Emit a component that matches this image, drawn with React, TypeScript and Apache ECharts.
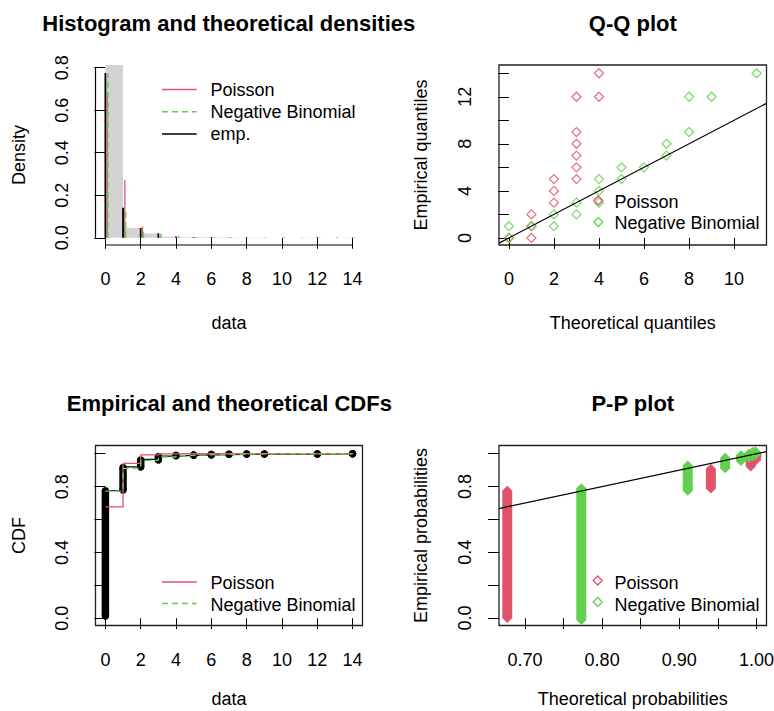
import { useEffect, useRef } from 'react';
import * as echarts from 'echarts';

const RED = '#DF536B';
const GREEN = '#61D04F';
const GRAY = '#D3D3D3';
const INK = '#000000';
const FONT = '"Liberation Sans", Arial, Helvetica, sans-serif';
const FS = 18;
const DASH = [6, 4];

// ---------- Panel 1: Histogram and theoretical densities ----------
const histBinStart = [0, 1, 2, 3, 4, 5, 6, 7, 8, 9, 10, 11, 12, 13];
const histBinEnd = [1, 2, 3, 4, 5, 6, 7, 8, 9, 10, 11, 12, 13, 14];
const histDensity = [0.92, 0.046, 0.02, 0.006, 0.003, 0.003, 0.002, 0.001, 0.001, 0, 0, 0.001, 0, 0.001];
const countValues = [0, 1, 2, 3, 4, 5, 6, 7, 8, 9, 10, 11, 12, 13, 14];
const empDensity = [0.775, 0.141, 0.046, 0.021, 0.006, 0.003, 0.003, 0.001, 0.002, 0.001, 0, 0, 0.002, 0, 0.001];
const poisDensity = [0.68, 0.27, 0.053, 0.007, 0.001, 0, 0, 0.002, 0, 0, 0.002, 0.002, 0.002, 0.002, 0.002];
const nbDensity = [0.773, 0.138, 0.0485, 0.0205, 0.01, 0.004, 0.003, 0.002, 0.001, 0.001, 0.001, 0.001, 0.001, 0.001, 0.001];
const dataTicks = [0, 2, 4, 6, 8, 10, 12, 14];
const densityTicks = [0, 0.2, 0.4, 0.6, 0.8];

// ---------- Panel 2: Q-Q plot ----------
const qqPoisTheo = [0, 1, 1, 1, 2, 2, 2, 3, 3, 3, 3, 3, 3, 4, 4];
const qqPoisEmp = [0, 0, 1, 2, 3, 4, 5, 5, 6, 7, 8, 9, 12, 12, 14];
const qqNbTheo = [0, 0, 1, 2, 2, 3, 3, 4, 4, 4, 5, 5, 6, 7, 7, 8, 8, 9, 11];
const qqNbEmp = [0, 1, 1, 1, 2, 2, 3, 3, 4, 5, 5, 6, 6, 7, 8, 9, 12, 12, 14];
const qqXTicks = [0, 2, 4, 6, 8, 10];
const qqYTicks = [0, 2, 4, 6, 8, 10, 12, 14];
const qqYLabels = [0, 4, 8, 12];

// ---------- Panel 3: Empirical and theoretical CDFs ----------
const cdfEmpX = [0, 1, 2, 3, 4, 5, 6, 7, 8, 9, 12, 14];
const cdfEmpLo = [0.014, 0.78, 0.92, 0.962, 0.988, 0.99, 0.993, 0.997, 0.998, 0.998, 0.999, 1.0];
const cdfEmpHi = [0.775, 0.916, 0.962, 0.983, 0.99, 0.993, 0.996, 0.997, 0.998, 0.998, 0.999, 1.0];
const cdfEmpStep = [0.775, 0.92, 0.966, 0.986, 0.99, 0.993, 0.995, 0.996, 0.997, 0.998, 0.999, 1.0];
const cdfPois = [0.677, 0.941, 0.9926, 0.9993, 1, 1, 1, 1, 1, 1, 1, 1, 1, 1, 1];
const cdfNb = [0.773, 0.911, 0.9595, 0.98, 0.99, 0.994, 0.996, 0.998, 0.999, 0.999, 1, 1, 1, 1, 1];
const probTicks = [0, 0.2, 0.4, 0.6, 0.8, 1.0];
const probLabels = [0, 0.4, 0.8];

// ---------- Panel 4: P-P plot ----------
const ppPoisX = [0.677, 0.941, 0.9926, 0.9993, 1.0];
const ppPoisLo = [0, 0.788, 0.922, 0.96, 0.985];
const ppPoisHi = [0.775, 0.908, 0.96, 0.99, 1.0];
const ppNbX = [0.773, 0.911, 0.9595, 0.98, 0.99, 0.995, 0.9985];
const ppNbLo = [-0.012, 0.774, 0.912, 0.955, 0.975, 0.985, 0.99];
const ppNbHi = [0.79, 0.928, 0.975, 0.99, 1.0, 1.01, 1.015];
const ppXTicks = [0.7, 0.75, 0.8, 0.85, 0.9, 0.95, 1.0];
const ppXLabels = [0.7, 0.8, 0.9, 1.0];

// reference line y = intercept + slope * x
const identityLine = { intercept: 0, slope: 1 };

// axis ranges (R style, 4% extension)
const R1 = { x: [-0.56, 14.56], y: [-0.034, 0.8127] };
const R2 = { x: [-0.44, 11.44], y: [-0.6, 14.7] };
const R3 = { x: [-0.56, 14.56], y: [-0.044, 1.05] };
const R4 = { x: [0.6663, 1.0131], y: [-0.045, 1.05] };

const zip3 = (a: number[], b: number[], c: number[]) => a.map((v, i) => [v, b[i], c[i]]);
const zip2 = (a: number[], b: number[]) => a.map((v, i) => [v, b[i]]);

type SegOpts = { offset?: number; dash?: number[]; cap?: 'none' | 'round' | 'diamond' };

function segSeries(grid: number, data: number[][], color: string, width: number, opts: SegOpts = {}) {
  return {
    type: 'custom',
    xAxisIndex: grid,
    yAxisIndex: grid,
    clip: true,
    silent: true,
    data,
    encode: { x: 0, y: [1, 2] },
    renderItem: (_params: any, api: any) => {
      const x = api.value(0) + (opts.offset || 0);
      const a = api.coord([x, api.value(1)]);
      const b = api.coord([x, api.value(2)]);
      const children: any[] = [];
      if (opts.cap === 'diamond') {
        const h = width / 2;
        const top = Math.min(a[1], b[1]);
        const bot = Math.max(a[1], b[1]);
        children.push({
          type: 'polygon',
          shape: {
            points: [
              [a[0], top - h], [a[0] + h, top], [a[0] + h, bot],
              [a[0], bot + h], [a[0] - h, bot], [a[0] - h, top],
            ],
          },
          style: { fill: color },
        });
      } else {
        children.push({
          type: 'line',
          shape: { x1: a[0], y1: a[1], x2: b[0], y2: b[1] },
          style: { stroke: color, lineWidth: width, lineDash: opts.dash || null, fill: null },
        });
        if (opts.cap === 'round') {
          children.push({ type: 'circle', shape: { cx: a[0], cy: a[1], r: width / 2 }, style: { fill: color } });
          children.push({ type: 'circle', shape: { cx: b[0], cy: b[1], r: width / 2 }, style: { fill: color } });
        }
      }
      return { type: 'group', children };
    },
  };
}

function valueAxis(kind: 'x' | 'y', grid: number, range: number[], ticks: number[], labels: number[], digits: number) {
  return {
    type: 'value',
    gridIndex: grid,
    min: range[0],
    max: range[1],
    axisLine: { show: false },
    splitLine: { show: false },
    axisTick: { show: true, inside: false, length: 11, lineStyle: { color: INK, width: 1 }, customValues: ticks },
    axisLabel: {
      show: true,
      customValues: labels,
      formatter: (v: number) => v.toFixed(digits),
      color: INK,
      fontSize: FS,
      fontFamily: FONT,
      margin: 25,
      rotate: kind === 'y' ? 90 : 0,
      hideOverlap: false,
    },
  };
}

function lineThrough(grid: number, range: number[]) {
  const pts = range.map((x) => [x, identityLine.intercept + identityLine.slope * x]);
  return {
    type: 'line',
    xAxisIndex: grid,
    yAxisIndex: grid,
    data: pts,
    symbol: 'none',
    silent: true,
    clip: true,
    lineStyle: { color: INK, width: 1.2 },
  };
}

function diamondScatter(grid: number, data: number[][], color: string) {
  return {
    type: 'scatter',
    xAxisIndex: grid,
    yAxisIndex: grid,
    data,
    symbol: 'diamond',
    symbolSize: 9,
    silent: true,
    itemStyle: { color: 'rgba(0,0,0,0)', borderColor: color, borderWidth: 1.3 },
  };
}

function text(t: string, x: number, y: number, o: any = {}) {
  return {
    type: 'text',
    x,
    y,
    rotation: o.rot || 0,
    silent: true,
    style: {
      text: t,
      fill: INK,
      fontSize: o.size || FS,
      fontWeight: o.bold ? 'bold' : 'normal',
      fontFamily: FONT,
      align: o.align || 'center',
      verticalAlign: 'middle',
    },
  };
}

function legLine(x1: number, x2: number, y: number, color: string, dash?: number[]) {
  return {
    type: 'line',
    silent: true,
    shape: { x1, y1: y, x2, y2: y },
    style: { stroke: color, lineWidth: 1.4, lineDash: dash || null },
  };
}

function legDiamond(cx: number, cy: number, color: string) {
  const h = 4.5;
  return {
    type: 'polygon',
    silent: true,
    shape: { points: [[cx, cy - h], [cx + h, cy], [cx, cy + h], [cx - h, cy]] },
    style: { fill: 'none', stroke: color, lineWidth: 1.3 },
  };
}

export default function App() {
  const ref = useRef<HTMLDivElement>(null);

  useEffect(() => {
    if (!ref.current) return;
    const chart = echarts.init(ref.current, undefined, { renderer: 'svg' });

    const boxed = { show: true, borderColor: '#222', borderWidth: 1.3, backgroundColor: 'transparent' };
    const grid = [
      { left: 95.5, top: 65, width: 267, height: 180, outerBoundsMode: 'none' },
      { left: 499, top: 65, width: 267.5, height: 180, outerBoundsMode: 'none', ...boxed },
      { left: 95.5, top: 445.5, width: 267, height: 180, outerBoundsMode: 'none', ...boxed },
      { left: 499, top: 445.5, width: 267.5, height: 180, outerBoundsMode: 'none', ...boxed },
    ];

    const xAxis = [
      valueAxis('x', 0, R1.x, dataTicks, dataTicks, 0),
      valueAxis('x', 1, R2.x, qqXTicks, qqXTicks, 0),
      valueAxis('x', 2, R3.x, dataTicks, dataTicks, 0),
      valueAxis('x', 3, R4.x, ppXTicks, ppXLabels, 2),
    ];
    const yAxis = [
      valueAxis('y', 0, R1.y, densityTicks, densityTicks, 1),
      valueAxis('y', 1, R2.y, qqYTicks, qqYLabels, 0),
      valueAxis('y', 2, R3.y, probTicks, probLabels, 1),
      valueAxis('y', 3, R4.y, probTicks, probLabels, 1),
    ];

    const histBars = {
      type: 'custom',
      xAxisIndex: 0,
      yAxisIndex: 0,
      clip: true,
      silent: true,
      data: zip3(histBinStart, histBinEnd, histDensity),
      encode: { x: [0, 1], y: 2 },
      renderItem: (params: any, api: any) => {
        const p0 = api.coord([api.value(0), api.value(2)]);
        const p1 = api.coord([api.value(1), 0]);
        const top = Math.max(p0[1], params.coordSys.y);
        return {
          type: 'rect',
          shape: { x: p0[0], y: top, width: p1[0] - p0[0], height: p1[1] - top },
          style: { fill: GRAY },
        };
      },
    };

    // axis lines of the box-less histogram panel (R draws from first to last tick)
    const histAxes = {
      type: 'custom',
      xAxisIndex: 0,
      yAxisIndex: 0,
      silent: true,
      data: [[dataTicks[0], dataTicks[dataTicks.length - 1], densityTicks[0], densityTicks[densityTicks.length - 1]]],
      encode: { x: [0, 1], y: [2, 3] },
      renderItem: (params: any, api: any) => {
        const cs = params.coordSys;
        const bottom = cs.y + cs.height;
        const left = cs.x;
        const xa = api.coord([api.value(0), 0])[0];
        const xb = api.coord([api.value(1), 0])[0];
        const ya = api.coord([0, api.value(2)])[1];
        const yb = api.coord([0, api.value(3)])[1];
        return {
          type: 'group',
          children: [
            { type: 'line', shape: { x1: xa, y1: bottom, x2: xb, y2: bottom }, style: { stroke: INK, lineWidth: 1.2 } },
            { type: 'line', shape: { x1: left, y1: ya, x2: left, y2: yb }, style: { stroke: INK, lineWidth: 1.2 } },
          ],
        };
      },
    };

    const zeros = countValues.map(() => 0);
    const series: any[] = [
      histBars,
      histAxes,
      segSeries(0, zip3(countValues, zeros, empDensity), INK, 1.8),
      segSeries(0, zip3(countValues, zeros, poisDensity), RED, 1.3, { offset: 0.1 }),
      segSeries(0, zip3(countValues, zeros, nbDensity), GREEN, 1.5, { offset: 0.15, dash: DASH }),

      lineThrough(1, R2.x),
      diamondScatter(1, zip2(qqPoisTheo, qqPoisEmp), RED),
      diamondScatter(1, zip2(qqNbTheo, qqNbEmp), GREEN),

      segSeries(2, zip3(cdfEmpX, cdfEmpLo, cdfEmpHi), INK, 7.5, { cap: 'round' }),
      {
        type: 'line', xAxisIndex: 2, yAxisIndex: 2, step: 'end', symbol: 'none', silent: true,
        data: zip2(cdfEmpX, cdfEmpStep), lineStyle: { color: INK, width: 1.2 },
      },
      {
        type: 'line', xAxisIndex: 2, yAxisIndex: 2, step: 'end', symbol: 'none', silent: true,
        data: zip2(countValues, cdfPois), lineStyle: { color: RED, width: 1.3 },
      },
      {
        type: 'line', xAxisIndex: 2, yAxisIndex: 2, step: 'end', symbol: 'none', silent: true,
        data: zip2(countValues, cdfNb), lineStyle: { color: GREEN, width: 1.4, type: DASH },
      },

      segSeries(3, zip3(ppPoisX, ppPoisLo, ppPoisHi), RED, 10, { cap: 'diamond' }),
      segSeries(3, zip3(ppNbX, ppNbLo, ppNbHi), GREEN, 10, { cap: 'diamond' }),
      lineThrough(3, R4.x),
    ];

    const graphic: any[] = [
      // titles
      text('Histogram and theoretical densities', 228.8, 23.5, { bold: true, size: 22 }),
      text('Q-Q plot', 632.8, 23.5, { bold: true, size: 22 }),
      text('Empirical and theoretical CDFs', 229.3, 403.5, { bold: true, size: 22 }),
      text('P-P plot', 632.8, 403.5, { bold: true, size: 22 }),
      // axis titles
      text('data', 229, 322.5),
      text('Density', 18.5, 155, { rot: Math.PI / 2 }),
      text('Theoretical quantiles', 632.8, 322.5),
      text('Empirical quantiles', 420.5, 155, { rot: Math.PI / 2 }),
      text('data', 229, 699),
      text('CDF', 18.5, 535.5, { rot: Math.PI / 2 }),
      text('Theoretical probabilities', 632.8, 699),
      text('Empirical probabilities', 420.5, 535.5, { rot: Math.PI / 2 }),
      // legend panel 1
      legLine(162, 196.7, 89.5, RED),
      legLine(162, 196.7, 111.8, GREEN, DASH),
      legLine(162, 196.7, 134, INK),
      text('Poisson', 210.5, 90, { align: 'left' }),
      text('Negative Binomial', 210.5, 112.2, { align: 'left' }),
      text('emp.', 210.5, 134, { align: 'left' }),
      // legend panel 2
      legDiamond(598.3, 200.5, RED),
      legDiamond(598.3, 222, GREEN),
      text('Poisson', 614.5, 201.7, { align: 'left' }),
      text('Negative Binomial', 614.5, 223.3, { align: 'left' }),
      // legend panel 3
      legLine(162, 196.7, 582, RED),
      legLine(162, 196.7, 603.5, GREEN, DASH),
      text('Poisson', 210.5, 583.3, { align: 'left' }),
      text('Negative Binomial', 210.5, 605, { align: 'left' }),
      // legend panel 4
      legDiamond(597.7, 580.5, RED),
      legDiamond(597.7, 602, GREEN),
      text('Poisson', 614.5, 583.3, { align: 'left' }),
      text('Negative Binomial', 614.5, 605, { align: 'left' }),
    ];

    chart.setOption({
      animation: false,
      backgroundColor: '#ffffff',
      textStyle: { fontFamily: FONT },
      grid,
      xAxis,
      yAxis,
      series,
      graphic,
    });

    return () => chart.dispose();
  }, []);

  return (
    <div
      ref={ref}
      style={{ position: 'fixed', left: 0, top: 0, width: 774, height: 711, background: '#fff' }}
    />
  );
}
